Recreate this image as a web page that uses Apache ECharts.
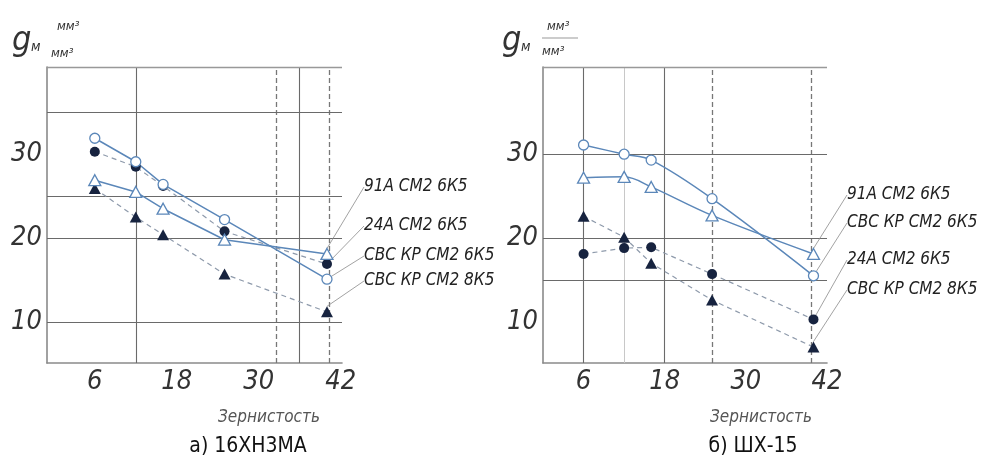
<!DOCTYPE html>
<html>
<head>
<meta charset="utf-8">
<script src="https://cdn.jsdelivr.net/npm/echarts@6/dist/echarts.min.js"></script>
<style>
html,body{margin:0;padding:0;background:#fff;}
#chart{width:983px;height:457px;}
</style>
</head>
<body>
<div id="chart"></div>
<script>
// ---- data ----
const grain = [6, 12, 16, 25, 40];
const xTickLabels = [6, 18, 30, 42];
const yTickLabels = [10, 20, 30];

// а) 16ХН3МА
const a_91A_6K5 = [26.9, 25.5, 23.5, 19.8, 18.1];      // open triangle
const a_24A_6K5 = [30.3, 28.5, 26.2, 20.8, 16.9];      // filled circle
const a_CBC_6K5 = [31.9, 29.1, 26.4, 22.2, 15.1];      // open circle
const a_CBC_8K5 = [25.9, 22.5, 20.4, 15.7, 11.2];      // filled triangle
const aVLinesSolid = [12, 36];
const aVLinesDashed = [32.5, 40.3];
const aHLines = [10, 20, 25, 35];

// б) ШХ-15
const b_91A_6K5 = [27.2, 27.3, 26.1, 22.7, 18.1];      // open triangle
const b_CBC_6K5 = [31.1, 30.0, 29.3, 24.7, 15.5];      // open circle
const b_24A_6K5 = [18.1, 18.8, 18.9, 15.7, 10.3];      // filled circle
const b_CBC_8K5 = [22.6, 20.1, 17.0, 12.6, 7.0];       // filled triangle
const bVLinesSolid = [6, 18];
const bVLinesLight = [12];
const bVLinesDashed = [25, 39.7];
const bHLines = [15, 20, 30];

const names = ['91А СМ2 6К5', '24А СМ2 6К5', 'СВС КР СМ2 6К5', 'СВС КР СМ2 8К5'];
const captionA = 'а) 16ХН3МА';
const captionB = 'б) ШХ-15';
const xTitle = 'Зернистость';

// ---- styles ----
const FONT = "'Liberation Sans Narrow', 'DejaVu Sans Condensed', sans-serif";
const BLUE = '#5b87b9';
const NAVY = '#17233f';
const DASH = '#8e9aab';
const GRIDC = '#6a6a6a';
const YMIN = 5.1, YMAX = 40.4;

const chart = echarts.init(document.getElementById('chart'));

function pts(vals) { return vals.map((v, i) => [grain[i], v]); }

function withLabel(vals, text, lx, ly) {
  const d = pts(vals);
  const last = d.length - 1;
  d[last] = {
    value: d[last],
    label: {
      show: true, formatter: text, position: 'right',
      fontFamily: FONT, fontStyle: 'italic', fontSize: 17, color: '#222'
    },
    labelLine: { show: true, lineStyle: { color: '#8a8a8a', width: 0.8 } }
  };
  return { data: d, labelLayout: { x: lx, y: ly, align: 'left', verticalAlign: 'middle' } };
}

function dataSeries(gi, vals, text, lx, ly, kind, smooth) {
  const w = withLabel(vals, text, lx, ly);
  const open = kind === 'openCircle' || kind === 'openTriangle';
  const tri = kind === 'openTriangle' || kind === 'filledTriangle';
  return {
    type: 'line', xAxisIndex: gi, yAxisIndex: gi, z: 5, silent: true,
    data: w.data, labelLayout: w.labelLayout,
    smooth: smooth && open ? 0.35 : false,
    symbol: tri ? 'triangle' : 'circle',
    symbolSize: tri ? [12, 11] : 10,
    itemStyle: open ? { color: '#fff', borderColor: BLUE, borderWidth: 1.3 }
                    : { color: NAVY, borderColor: NAVY, borderWidth: 0 },
    lineStyle: open ? { color: BLUE, width: 1.5, type: 'solid' }
                    : { color: DASH, width: 1.2, type: [5, 4] },
    label: { show: false },
    emphasis: { disabled: true }
  };
}

function gridLines(gi, solidX, dashedX, lightX, hY) {
  const d = [];
  solidX.forEach(v => d.push({ xAxis: v, lineStyle: { color: GRIDC, width: 1.1, type: 'solid' } }));
  dashedX.forEach(v => d.push({ xAxis: v, lineStyle: { color: '#777', width: 1.3, type: [5, 3] } }));
  lightX.forEach(v => d.push({ xAxis: v, lineStyle: { color: '#c8c8c8', width: 1, type: 'solid' } }));
  hY.forEach(v => d.push({ yAxis: v, lineStyle: { color: GRIDC, width: 1.1, type: 'solid' } }));
  d.push({ yAxis: YMAX, lineStyle: { color: '#999', width: 1.4, type: 'solid' } });
  return {
    type: 'line', xAxisIndex: gi, yAxisIndex: gi, z: 1, silent: true,
    data: [], showSymbol: false,
    markLine: { silent: true, symbol: ['none', 'none'], label: { show: false }, animation: false, data: d }
  };
}

function xAx(gi, min, max) {
  return {
    type: 'value', gridIndex: gi, min: min, max: max,
    axisLine: { show: true, onZero: false, lineStyle: { color: '#8a8a8a', width: 1.6 } },
    axisTick: { show: false }, splitLine: { show: false },
    axisLabel: {
      customValues: xTickLabels, margin: 5,
      fontFamily: FONT, fontStyle: 'italic', fontSize: 27, color: '#333'
    }
  };
}
function yAx(gi) {
  return {
    type: 'value', gridIndex: gi, min: YMIN, max: YMAX,
    axisLine: { show: true, onZero: false, lineStyle: { color: '#8a8a8a', width: 1.6 } },
    axisTick: { show: false }, splitLine: { show: false },
    axisLabel: {
      customValues: yTickLabels, margin: 5,
      fontFamily: FONT, fontStyle: 'italic', fontSize: 27, color: '#333'
    }
  };
}

function txt(x, y, s, size, opts) {
  return {
    type: 'text', x: x, y: y, silent: true,
    style: Object.assign({ text: s, fontFamily: FONT, fontSize: size, fontStyle: 'italic', fill: '#333' }, opts || {})
  };
}

const option = {
  animation: false,
  backgroundColor: '#fff',
  grid: [
    { left: 47, top: 67, width: 295, height: 296 },
    { left: 543, top: 67, width: 284, height: 296 }
  ],
  xAxis: [xAx(0, -1, 42.2), xAx(1, 0, 42)],
  yAxis: [yAx(0), yAx(1)],
  series: [
    gridLines(0, aVLinesSolid, aVLinesDashed, [], aHLines),
    gridLines(1, bVLinesSolid, bVLinesDashed, bVLinesLight, bHLines),
    dataSeries(0, a_CBC_8K5, names[3], 364, 281, 'filledTriangle', false),
    dataSeries(0, a_24A_6K5, names[1], 364, 226, 'filledCircle', false),
    dataSeries(0, a_91A_6K5, names[0], 364, 187, 'openTriangle', false),
    dataSeries(0, a_CBC_6K5, names[2], 364, 256, 'openCircle', false),
    dataSeries(1, b_CBC_8K5, names[3], 847, 290, 'filledTriangle', true),
    dataSeries(1, b_24A_6K5, names[1], 847, 260, 'filledCircle', true),
    dataSeries(1, b_91A_6K5, names[0], 847, 195, 'openTriangle', true),
    dataSeries(1, b_CBC_6K5, names[2], 847, 223, 'openCircle', true)
  ],
  graphic: [
    // left axis unit
    txt(12, 24, 'g', 34),
    txt(31, 40, 'м', 14),
    txt(57, 20, 'мм³', 13),
    txt(51, 47, 'мм³', 13),
    // right axis unit
    txt(502, 24, 'g', 34),
    txt(521, 40, 'м', 14),
    txt(547, 20, 'мм³', 13),
    { type: 'line', silent: true, shape: { x1: 542, y1: 38, x2: 578, y2: 38 }, style: { stroke: '#999', lineWidth: 1 } },
    txt(542, 45, 'мм³', 13),
    // x titles
    txt(269, 418, xTitle, 17, { align: 'center', verticalAlign: 'middle', fill: '#555' }),
    txt(761, 418, xTitle, 17, { align: 'center', verticalAlign: 'middle', fill: '#555' }),
    // captions
    txt(248, 447, captionA, 21, { align: 'center', verticalAlign: 'middle', fontStyle: 'normal', fill: '#111' }),
    txt(753, 447, captionB, 21, { align: 'center', verticalAlign: 'middle', fontStyle: 'normal', fill: '#111' })
  ]
};
chart.setOption(option);
</script>
</body>
</html>
